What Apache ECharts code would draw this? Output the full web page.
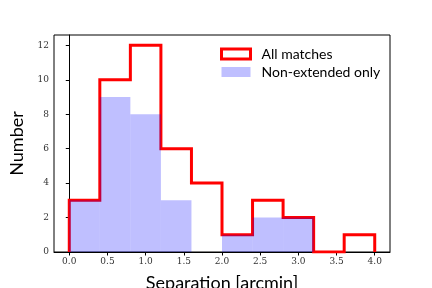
<!DOCTYPE html>
<html><head><meta charset="utf-8">
<script src="https://cdn.jsdelivr.net/npm/echarts@6/dist/echarts.min.js"></script>
<style>html,body{margin:0;padding:0;background:#fff}#c{width:432px;height:288px}</style>
</head><body><div id="c"></div>
<script>
var binEdges = [0.0, 0.4, 0.8, 1.2, 1.6, 2.0, 2.4, 2.8, 3.2, 3.6, 4.0];
var allMatches = [3, 10, 12, 6, 4, 1, 3, 2, 0, 1];
var nonExtended = [3, 9, 8, 3, 0, 1, 2, 2, 0, 0];
var xTicks = [0.0, 0.5, 1.0, 1.5, 2.0, 2.5, 3.0, 3.5, 4.0];
var yTicks = [0, 2, 4, 6, 8, 10, 12];

var stepPts = [[binEdges[0], 0]];
for (var i = 0; i < allMatches.length; i++) {
  stepPts.push([binEdges[i], allMatches[i]]);
  stepPts.push([binEdges[i + 1], allMatches[i]]);
}
stepPts.push([binEdges[binEdges.length - 1], 0]);

var barData = nonExtended.map(function (v, i) { return [binEdges[i], binEdges[i + 1], v]; });

var chart = echarts.init(document.getElementById('c'), null, {renderer: 'canvas'});
var serif = 'DejaVu Serif';
var sans = 'Lato';
chart.setOption({
  animation: false,
  grid: {left: 54, right: 42, top: 35, bottom: 36, show: true, borderColor: '#000', borderWidth: 1,
    backgroundColor: 'transparent', outerBoundsMode: 'none', containLabel: false},
  xAxis: {
    type: 'value', min: -0.2, max: 4.2,
    axisLine: {show: true, onZero: false, lineStyle: {color: '#000'}},
    axisTick: {show: true, length: 3.5, customValues: xTicks, lineStyle: {color: '#000'}},
    axisLabel: {customValues: xTicks, fontFamily: serif, fontSize: 9, color: '#333', margin: 5,
      formatter: function (v) { return v.toFixed(1); }},
    splitLine: {show: false},
    name: 'Separation [arcmin]', nameLocation: 'middle', nameGap: 22,
    nameTextStyle: {fontFamily: sans, fontSize: 18, color: '#000'}
  },
  yAxis: {
    type: 'value', min: 0, max: 12.6,
    axisLine: {show: true, lineStyle: {color: '#000'}},
    axisTick: {show: true, length: 3.5, customValues: yTicks, lineStyle: {color: '#000'}},
    axisLabel: {customValues: yTicks, fontFamily: serif, fontSize: 9, color: '#333', margin: 5},
    splitLine: {show: false},
    name: 'Number', nameLocation: 'middle', nameGap: 19,
    nameTextStyle: {fontFamily: sans, fontSize: 18, color: '#000'}
  },
  legend: {
    orient: 'vertical', left: 220, top: 47, padding: 0, itemWidth: 29, itemHeight: 10, itemGap: 4,
    textStyle: {fontFamily: sans, fontSize: 14, color: '#000', padding: [0, 0, 0, 6]},
    data: [
      {name: 'All matches', icon: 'rect', itemStyle: {color: '#fff', borderColor: '#ff0000', borderWidth: 3}},
      {name: 'Non-extended only', icon: 'rect', itemStyle: {color: 'rgba(0,0,255,0.25)', borderWidth: 0}}
    ]
  },
  series: [
    {
      name: 'All matches', type: 'line', data: stepPts, symbol: 'none',
      lineStyle: {color: '#ff0000', width: 3, join: 'miter'}, itemStyle: {color: '#ff0000'}, z: 2
    },
    {
      name: 'Non-extended only', type: 'custom', data: barData, z: 3,
      encode: {x: [0, 1], y: 2},
      renderItem: function (params, api) {
        var p0 = api.coord([api.value(0), api.value(2)]);
        var p1 = api.coord([api.value(1), 0]);
        return {type: 'rect', shape: {x: p0[0], y: p0[1], width: p1[0] - p0[0], height: p1[1] - p0[1]},
          style: {fill: 'rgba(0,0,255,0.25)'}};
      },
      itemStyle: {color: 'rgba(0,0,255,0.25)'}
    }
  ]
});
</script></body></html>
